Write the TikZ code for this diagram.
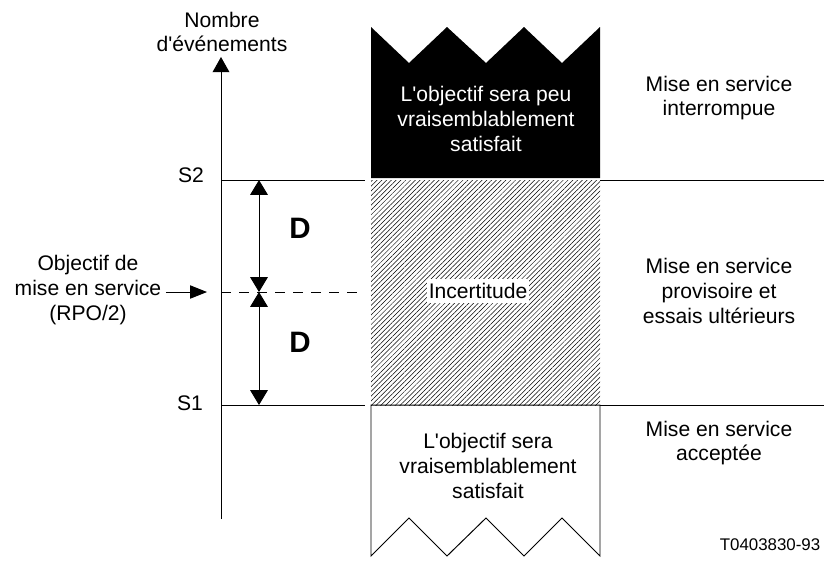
\documentclass[tikz,border=0pt]{standalone}
\usepackage{fontspec}
\setmainfont{Liberation Sans}
\usetikzlibrary{arrows.meta,patterns.meta}

\begin{document}
\begin{tikzpicture}[x=0.025cm,y=-0.025cm,line width=0.7pt]
            \tikzstyle{t}=[align=center,inner sep=0pt,font=\fontsize{15}{17.5}\selectfont]
            \tikzstyle{d}=[inner sep=0pt,font=\fontsize{21}{24}\selectfont\bfseries]
            \tikzstyle{tip}=[-{Triangle[length=0.38cm,width=0.42cm]}]
            \tikzstyle{dbl}=[{Triangle[length=0.37cm,width=0.44cm]}-{Triangle[length=0.37cm,width=0.44cm]}]
            \useasboundingbox (0,0) rectangle (824,562);

            % axe
            \coordinate (o) at (221,519);
            \coordinate (ax) at (221,57);
            \draw[tip] (o) -- (ax);
            \node [t] (nombre) at (222,32) {Nombre\\d\textquotesingle événements};

            % seuils
            \coordinate (s2g) at (221,180);  \coordinate (s2d) at (365,180);
            \coordinate (s1g) at (221,405);  \coordinate (s1d) at (365,405);
            \coordinate (mg) at (221,292);   \coordinate (md) at (365,292);
            \coordinate (s2r) at (600,180);  \coordinate (s2e) at (824,180);
            \coordinate (s1r) at (600,405);  \coordinate (s1e) at (824,405);
            \draw (s2g) -- (s2d);
            \draw (s1g) -- (s1d);
            \draw (s2r) -- (s2e);
            \draw (s1r) -- (s1e);
            \draw [dash pattern=on 0.25cm off 0.2cm] (mg) -- (md);
            \node [t] (s2) at (191,175) {S2};
            \node [t] (s1) at (190,403) {S1};

            % marges D
            \coordinate (da) at (259,180);
            \coordinate (db) at (259,292);
            \coordinate (dc) at (259,405);
            \draw [dbl] (da) -- (db);
            \draw [dbl] (db) -- (dc);
            \node [d] (d1) at (300,228) {D};
            \node [d] (d2) at (300,342) {D};

            % objectif
            \node [t] (obj) at (88,290) {Objectif de\\mise en service\\(RPO/2)};
            \coordinate (in) at (207,292);
            \draw [-{Triangle[length=0.42cm,width=0.33cm]}] (obj.east |- in) ++(4,0) -- (in);

            % zones
            \fill (371,178) -- (371,27) -- (409,63) -- (447,27) -- (486,63)
                -- (524,27) -- (562,63) -- (600,27) -- (600,178) -- cycle;
            \node [t,text=white] (haut) at (486,119) {L\textquotesingle objectif sera peu\\vraisemblablement\\satisfait};

            \fill [pattern={Lines[angle=45,distance=2.4pt,line width=0.35pt]}] (371,180) rectangle (600,405);
            \node [t,fill=white,inner xsep=1.5pt,inner ysep=3pt] (incert) at (478,291) {Incertitude};

            \draw (371,405) -- (371,556) -- (409,518) -- (447,556) -- (486,518)
                -- (524,556) -- (562,518) -- (600,556) -- (600,405) -- cycle;
            \node [t] (bas) at (488,466) {L\textquotesingle objectif sera\\vraisemblablement\\satisfait};

            % decisions
            \node [t] (interr) at (719,98) {Mise en service\\interrompue};
            \node [t] (prov) at (719,291) {Mise en service\\provisoire et\\essais ultérieurs};
            \node [t] (accept) at (719,443) {Mise en service\\acceptée};
            \node [t,font=\fontsize{12}{14}\selectfont] (ref) at (770,545) {T0403830-93};
\end{tikzpicture}
\end{document}
